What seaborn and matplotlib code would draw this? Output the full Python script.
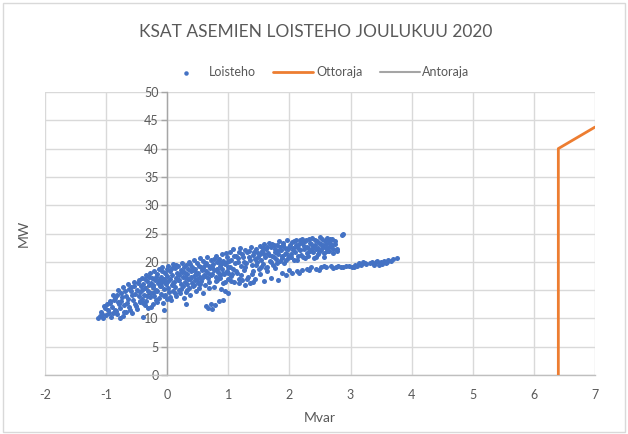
import matplotlib
matplotlib.use("Agg")
import matplotlib.pyplot as plt
from matplotlib.patches import Rectangle
import seaborn as sns
import pandas as pd

# ---------------- data ----------------
loisteho_mvar = [
    -1.13, -1.10, -1.08, -1.05, -1.02, -1.00, -0.98, -0.96, -0.94, -0.92,
    -0.90, -0.88, -0.86, -0.85, -0.83, -0.81, -0.80, -0.78, -0.76, -0.75,
    -0.73, -0.72, -0.70, -0.68, -0.67, -0.65, -0.64, -0.62, -0.60, -0.59,
    -0.58, -0.56, -0.55, -0.53, -0.52, -0.50, -0.49, -0.47, -0.46, -0.45,
    -0.44, -0.43, -0.42, -0.41, -0.40, -0.39, -0.38, -0.37, -0.36, -0.35,
    -0.34, -0.33, -0.32, -0.31, -0.30, -0.29, -0.28, -0.27, -0.26, -0.25,
    -0.24, -0.23, -0.22, -0.21, -0.20, -0.19, -0.18, -0.17, -0.16, -0.15,
    -0.14, -0.13, -0.12, -0.11, -0.10, -0.09, -0.08, -0.07, -0.06, -0.05,
    -0.04, -0.03, -0.02, -0.01, 0.00, 0.01, 0.02, 0.03, 0.04, 0.05,
    0.06, 0.07, 0.08, 0.09, 0.10, 0.11, 0.12, 0.13, 0.14, 0.15,
    0.16, 0.17, 0.18, 0.19, 0.20, 0.21, 0.22, 0.23, 0.24, 0.25,
    0.26, 0.27, 0.28, 0.29, 0.30, 0.31, 0.32, 0.33, 0.34, 0.35,
    0.36, 0.37, 0.38, 0.39, 0.40, 0.41, 0.42, 0.43, 0.44, 0.45,
    0.46, 0.47, 0.48, 0.49, 0.50, 0.51, 0.52, 0.53, 0.54, 0.55,
    0.56, 0.57, 0.58, 0.59, 0.60, 0.61, 0.62, 0.63, 0.64, 0.65,
    0.66, 0.67, 0.68, 0.69, 0.70, 0.71, 0.72, 0.73, 0.74, 0.75,
    0.76, 0.77, 0.78, 0.79, 0.80, 0.81, 0.82, 0.83, 0.84, 0.85,
    0.86, 0.87, 0.88, 0.89, 0.90, 0.91, 0.92, 0.93, 0.94, 0.95,
    0.96, 0.97, 0.98, 0.99, 1.00,
    1.02, 1.04, 1.05, 1.07, 1.08, 1.10, 1.11, 1.13, 1.14, 1.16,
    1.17, 1.19, 1.20, 1.22, 1.23, 1.25, 1.26, 1.28, 1.29, 1.31,
    1.32, 1.34, 1.35, 1.37, 1.38, 1.40, 1.41, 1.43, 1.44, 1.46,
    1.47, 1.49, 1.50,
    1.52, 1.54, 1.55, 1.57, 1.58, 1.60, 1.62, 1.63, 1.65, 1.66,
    1.68, 1.70, 1.71, 1.73, 1.75, 1.76, 1.78, 1.80, 1.81, 1.83,
    1.85, 1.86, 1.88, 1.90, 1.91, 1.93, 1.95, 1.96, 1.98, 2.00,
    1.52, 1.58, 1.64, 1.70, 1.76, 1.82, 1.88, 1.94, 1.99,
    2.02, 2.04, 2.06, 2.08, 2.10, 2.12, 2.14, 2.16, 2.18, 2.20,
    2.22, 2.24, 2.26, 2.28, 2.30, 2.32, 2.34, 2.36, 2.38, 2.40,
    2.42, 2.44, 2.46, 2.48, 2.50, 2.52, 2.54, 2.56, 2.58, 2.60,
    2.62, 2.64, 2.66, 2.68, 2.70, 2.72, 2.75, 2.78, 2.86, 2.88,
    2.04, 2.12, 2.20, 2.28, 2.36, 2.44, 2.52, 2.60, 2.68, 2.76,
    2.84, 2.92, 2.98, 3.02, 3.08, 3.14, 3.20, 3.26, 3.32, 3.38,
    3.42, 3.46, 3.50, 3.55, 3.58, 3.62, 3.70, 3.76,
]
loisteho_mw = [
    10.0, 10.4, 11.2, 10.1, 11.8, 10.6, 12.5, 11.0, 13.1, 10.3,
    12.0, 14.2, 11.5, 13.6, 10.8, 12.9, 15.0, 11.9, 14.4, 13.0,
    10.5, 15.6, 12.4, 14.0, 11.2, 16.0, 13.5, 12.1, 14.8, 15.5,
    10.9, 13.2, 16.4, 12.6, 14.3, 15.1, 11.6, 13.9, 16.8, 12.9,
    14.7, 15.8, 17.2, 13.4, 10.2, 16.1, 14.2, 12.3, 15.3, 17.6,
    13.0, 16.6, 14.9, 11.8, 15.9, 18.0, 13.7, 16.3, 14.5, 17.1,
    12.6, 15.5, 18.3, 14.0, 16.8, 13.2, 15.1, 17.8, 14.8, 16.2,
    18.7, 13.6, 15.7, 17.4, 14.3, 16.5, 19.0, 12.8, 15.2, 17.0,
    14.1, 18.1, 16.0, 13.5, 17.5, 15.4, 19.3, 14.6, 16.9, 18.4,
    13.3, 15.9, 17.7, 19.6, 14.9, 16.4, 18.9, 15.6, 17.2, 13.9,
    18.0, 16.7, 19.2, 15.1, 17.6, 14.4, 18.5, 16.1, 19.8, 15.8,
    17.3, 13.6, 18.2, 16.5, 19.5, 14.7, 17.9, 16.0, 18.7, 15.4,
    20.0, 17.0, 14.2, 18.4, 16.3, 19.1, 15.7, 17.5, 20.3, 16.8,
    18.8, 14.9, 17.8, 19.7, 16.2, 18.1, 15.3, 20.6, 17.4, 19.0,
    16.6, 18.6, 14.5, 20.1, 17.7, 19.4, 15.9, 18.3, 12.2, 20.8,
    17.1, 11.9, 19.2, 16.4, 18.9, 12.6, 20.4, 17.9, 11.7, 19.6,
    15.6, 18.5, 12.3, 21.0, 17.3, 19.9, 16.8, 18.2, 13.1, 20.5,
    17.6, 19.3, 15.2, 21.3, 18.7, 16.2, 20.2, 17.9, 19.6, 14.8,
    21.6, 18.4, 20.0, 16.9, 19.1,
    21.8, 17.5, 20.4, 18.8, 22.2, 16.4, 19.7, 21.1, 18.1, 20.7,
    17.0, 22.5, 19.3, 21.4, 16.8, 20.0, 18.6, 22.0, 19.8, 21.7,
    17.4, 20.9, 16.3, 22.7, 19.5, 21.2, 18.3, 20.5, 17.0, 22.3,
    19.9, 21.5, 18.7,
    22.8, 20.3, 21.9, 19.6, 23.1, 20.8, 22.2, 19.1, 21.5, 23.4,
    20.1, 22.6, 21.0, 19.4, 23.0, 21.8, 20.5, 22.9, 21.3, 23.6,
    20.2, 22.1, 21.1, 23.3, 19.8, 22.5, 21.6, 23.8, 20.7, 22.7,
    17.9, 16.6, 18.4, 17.2, 18.9, 16.7, 18.1, 17.6, 18.6,
    21.4, 23.5, 22.1, 20.4, 23.9, 22.6, 21.0, 23.2, 22.0, 24.1,
    20.9, 22.8, 23.6, 21.5, 22.4, 24.0, 21.9, 23.1, 22.7, 20.6,
    23.8, 22.2, 21.3, 23.4, 24.3, 22.0, 23.0, 21.6, 23.7, 22.5,
    24.2, 21.9, 23.3, 22.8, 24.0, 21.6, 23.1, 22.3, 24.7, 25.0,
    18.0, 18.3, 18.6, 18.8, 19.0, 18.8, 19.1, 19.0, 19.2, 19.1,
    19.0, 19.2, 19.3, 19.1, 19.4, 19.8, 19.9, 19.6, 19.7, 19.4,
    19.9, 19.5, 20.0, 20.1, 19.7, 20.3, 20.5, 20.6,
]
# second batch of readings (denser core and upper band)
loisteho_mvar_2 = [
    -1.07, -1.03, -0.97, -0.93, -0.89, -0.87, -0.84, -0.82, -0.79, -0.77,
    -0.74, -0.71, -0.69, -0.66, -0.63, -0.61, -0.57, -0.54, -0.51, -0.48,
    -0.44, -0.42, -0.39, -0.36, -0.33, -0.30, -0.27, -0.24, -0.22, -0.19,
    -0.16, -0.14, -0.11, -0.09, -0.06, -0.04, -0.01, 0.02, 0.04, 0.07,
    0.09, 0.12, 0.14, 0.17, 0.19, 0.22, 0.24, 0.27, 0.29, 0.32,
    0.34, 0.37, 0.39, 0.42, 0.44, 0.47, 0.49, 0.52, 0.54, 0.57,
    0.59, 0.62, 0.64, 0.67, 0.69, 0.72, 0.74, 0.77, 0.79, 0.82,
    0.84, 0.87, 0.89, 0.92, 0.94, 0.97, 0.99, 1.01, 1.03, 1.06,
    1.09, 1.12, 1.15, 1.18, 1.21, 1.24, 1.27, 1.30, 1.33, 1.36,
    1.39, 1.42, 1.45, 1.48, 1.51, 1.53, 1.56, 1.59, 1.61, 1.64,
    1.67, 1.69, 1.72, 1.74, 1.77, 1.79, 1.82, 1.84, 1.87, 1.89,
    1.92, 1.94, 1.97, 1.99, 2.01, 2.03, 2.05, 2.07, 2.09, 2.11,
    2.13, 2.15, 2.17, 2.19, 2.21, 2.23, 2.25, 2.27, 2.29, 2.31,
    2.33, 2.35, 2.37, 2.39, 2.41, 2.43, 2.45, 2.47, 2.49, 2.51,
    2.53, 2.55, 2.57, 2.59, 2.61, 2.63, 2.65, 2.67, 2.69, 2.71,
    2.74, 2.77, 1.05, 1.18, 1.27, 1.40, 0.92, 1.00, -0.05, 0.30,
    2.16, 2.32, 2.48, 2.56, 2.72, 2.80, 2.88, 3.05, 3.11, 3.17,
    3.23, 3.35, 3.44, 3.52, 3.60, 3.66,
]
loisteho_mw_2 = [
    10.8, 12.2, 11.5, 12.8, 10.9, 13.3, 11.3, 14.1, 12.6, 10.1,
    13.8, 11.1, 14.9, 12.8, 15.2, 11.4, 14.1, 15.7, 12.2, 16.2,
    13.1, 15.0, 12.7, 16.9, 14.0, 17.3, 12.1, 15.9, 14.6, 17.4,
    12.9, 16.7, 15.8, 18.3, 13.9, 16.4, 18.8, 16.6, 13.8, 18.9,
    16.2, 14.5, 19.4, 17.9, 16.8, 15.2, 18.2, 19.0, 17.4, 15.0,
    16.9, 19.6, 17.3, 18.6, 15.9, 18.1, 17.0, 19.3, 16.0, 17.2,
    18.9, 17.5, 19.8, 18.0, 15.3, 17.6, 19.0, 20.5, 16.6, 18.8,
    20.0, 17.1, 19.7, 18.1, 16.5, 20.8, 18.0, 20.2, 19.0, 17.8,
    21.0, 18.4, 19.9, 21.7, 17.7, 20.8, 19.0, 16.9, 21.9, 20.3,
    17.8, 21.8, 19.4, 20.8, 21.3, 19.0, 22.4, 21.4, 18.9, 22.7,
    21.2, 19.9, 23.2, 20.9, 22.3, 19.7, 21.9, 22.6, 20.6, 23.0,
    21.3, 20.3, 22.2, 21.0, 23.0, 20.8, 22.5, 23.7, 21.7, 22.9,
    20.3, 22.3, 23.8, 21.2, 23.3, 22.2, 20.7, 23.9, 22.6, 21.1,
    23.4, 22.0, 24.2, 21.7, 22.9, 20.9, 23.6, 22.4, 21.8, 23.2,
    24.0, 22.7, 20.8, 23.1, 21.9, 23.9, 22.6, 24.1, 23.0, 22.2,
    23.7, 21.9, 16.6, 16.2, 15.9, 16.5, 13.2, 14.4, 11.5, 12.6,
    18.1, 18.5, 18.6, 19.3, 18.9, 19.3, 19.1, 19.0, 19.2, 19.5,
    19.7, 19.9, 20.1, 19.6, 20.0, 20.2,
]
ottoraja_mvar = [6.4, 6.4, 7.0]
ottoraja_mw = [0.0, 40.0, 43.8]
antoraja_mvar = []
antoraja_mw = []

x_ticks = [-2, -1, 0, 1, 2, 3, 4, 5, 6, 7]
y_ticks = [0, 5, 10, 15, 20, 25, 30, 35, 40, 45, 50]

title = "KSAT ASEMIEN LOISTEHO JOULUKUU 2020"

# ---------------- style ----------------
sns.set_theme(style="white")
plt.rcParams['font.family'] = ['Lato', 'DejaVu Sans']
TXT = "#595959"
GRID = "#d9d9d9"
BLUE = "#4472C4"
ORANGE = "#ED7D31"
GRAY = "#A5A5A5"

W, H = 628, 434
fig = plt.figure(figsize=(W / 100, H / 100), dpi=100)
fig.patches.append(Rectangle((3 / W, 2 / H), (W - 6) / W, (H - 5) / H,
                             transform=fig.transFigure, fill=False,
                             edgecolor=GRID, linewidth=1.0))

L, R, T, B = 45, 595, 92, 375
ax = fig.add_axes([L / W, 1 - B / H, (R - L) / W, (B - T) / H])

df = pd.DataFrame({"Mvar": loisteho_mvar + loisteho_mvar_2,
                   "MW": loisteho_mw + loisteho_mw_2})
sns.scatterplot(data=df, x="Mvar", y="MW", ax=ax, color=BLUE, s=13,
                linewidth=0, alpha=1.0, label="Loisteho", zorder=3)
sns.lineplot(x=ottoraja_mvar, y=ottoraja_mw, ax=ax, sort=False,
             estimator=None, color=ORANGE, linewidth=2.0,
             label="Ottoraja", zorder=4)
ax.plot(antoraja_mvar, antoraja_mw, color=GRAY, linewidth=1.5,
        label="Antoraja")

ax.set_xlim(x_ticks[0], x_ticks[-1])
ax.set_ylim(y_ticks[0], y_ticks[-1])
ax.set_xticks(x_ticks)
ax.set_yticks(y_ticks)
ax.set_xticklabels([str(v) for v in x_ticks])
ax.set_yticklabels([str(v) for v in y_ticks])
ax.grid(True, color=GRID, linewidth=1.0, zorder=0)
ax.set_axisbelow(True)

for s in ["top", "right"]:
    ax.spines[s].set_visible(False)
ax.spines["left"].set_position(("data", 0))
ax.spines["left"].set_color("#a6a6a6")
ax.spines["left"].set_linewidth(1.0)
ax.spines["bottom"].set_color("#bfbfbf")
ax.spines["bottom"].set_linewidth(1.0)

ax.tick_params(axis="x", length=0, pad=10, labelsize=9, labelcolor=TXT)
ax.tick_params(axis="y", length=4, width=1, color="#a6a6a6", direction="out",
               pad=2, labelsize=9, labelcolor=TXT, left=True)

ax.set_xlabel("Mvar", fontsize=10, color=TXT, labelpad=8)
ax.set_ylabel("MW", fontsize=10, color=TXT)
ax.yaxis.set_label_coords((30 - L) / (R - L), 0.5)

fig.text(316 / W, 1 - 32 / H, title, ha="center", va="center",
         fontsize=12.5, color=TXT)

if ax.legend_:
    ax.legend_.remove()
handles, labels = ax.get_legend_handles_labels()
fig.legend(handles, labels, loc="center", bbox_to_anchor=(318 / W, 1 - 72 / H),
           ncol=3, frameon=False, fontsize=9, labelcolor=TXT,
           handlelength=3.2, columnspacing=1.4, handletextpad=0.2,
           markerscale=0.9)

fig.savefig("out.png", dpi=100)
